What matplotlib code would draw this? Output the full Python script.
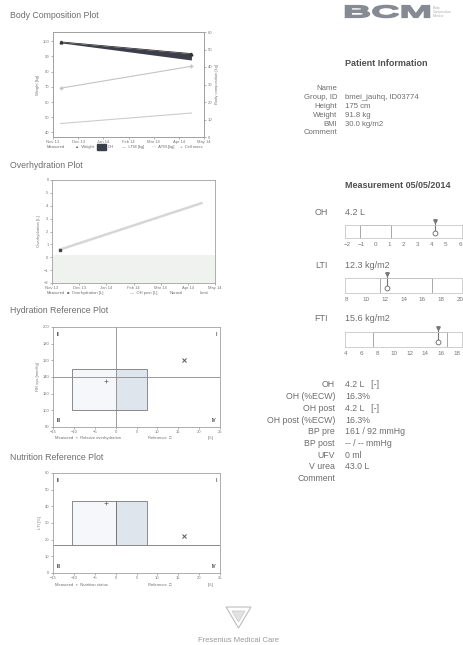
import numpy as np
import matplotlib
matplotlib.use('Agg')
import matplotlib.pyplot as plt
from matplotlib.patches import Rectangle, Polygon, PathPatch
from matplotlib.textpath import TextPath
from matplotlib.font_manager import FontProperties
from matplotlib.transforms import Affine2D, IdentityTransform

W, H = 463, 645
plt.rcParams['font.family'] = ['Liberation Sans', 'DejaVu Sans']

#==============================================
#                   DATA
#==============================================
month_labels = ['Nov 13', 'Dec 13', 'Jan 14', 'Feb 14', 'Mar 14', 'Apr 14', 'May 14']
meas_pos = [0.3, 5.5]          # position of the two measurements on the month axis
weight = [99.5, 91.8]          # kg
oh = [0.6, 4.2]                # L
ltm = [27.9, 40.4]             # kg (right axis)
atm = [7.7, 13.7]              # kg (right axis)
oh_band = [-2.0, 0.2]

rel_oh = [16.3]                # OH / ECW [%]
bp_sys = [161]                 # mmHg
hyd_box = [-10.5, 7.5, 100, 150]
hyd_center = [-2.3, 135]

nut_val = [22]
nut_box = [-10.5, 7.5, 17, 43]
nut_center = [-2.3, 42]

bar_names = ['OH', 'LTI', 'FTI']
bar_values = [4.2, 12.3, 15.6]
bar_units = ['L', 'kg/m2', 'kg/m2']
bar_ranges = [(-1.1, 1.1), (11.5, 17.0), (7.4, 16.7)]
bar_ticks = [list(range(-2, 7)), list(range(8, 21, 2)), list(range(4, 19, 2))]
bar_lims = [(-2.14, 6.14), (7.8, 20.2), (3.9, 18.6)]

patient_labels = ['Name', 'Group, ID', 'Height', 'Weight', 'BMI', 'Comment']
patient_values = ['', 'bmei_jauhq, ID03774', '175 cm', '91.8 kg', '30.0 kg/m2', '']

result_labels = ['OH', 'OH (%ECW)', 'OH post', 'OH post (%ECW)', 'BP pre',
                 'BP post', 'UFV', 'V urea', 'Comment']
result_values = ['4.2 L   [-]', '16.3%', '4.2 L   [-]', '16.3%', '161 / 92 mmHg',
                 '-- / -- mmHg', '0 ml', '43.0 L', '']

#==============================================
#                   HELPERS
#==============================================
fig = plt.figure(figsize=(W / 100, H / 100), dpi=100)
fig.patch.set_facecolor('white')

TXT = '#6e6e6e'
DARK = '#505050'
FRAME = '#a0a0a0'


def ax_at(x0, y0, x1, y1):
    return fig.add_axes([x0 / W, 1 - y1 / H, (x1 - x0) / W, (y1 - y0) / H])


def ftext(x, y, s, **kw):
    kw.setdefault('va', 'center')
    kw.setdefault('color', TXT)
    return fig.text(x / W, 1 - y / H, s, **kw)


def fxy(x, y):
    return (x / W, 1 - y / H)


def style(ax, size=3):
    for sp in ax.spines.values():
        sp.set_color(FRAME)
        sp.set_linewidth(0.6)
    ax.tick_params(labelsize=size, colors='#777777', length=1.5, width=0.4, pad=1)


#==============================================
#            BODY COMPOSITION PLOT
#==============================================
ftext(10, 16, 'Body Composition Plot', fontsize=6.3)
ax1 = ax_at(53, 32, 204, 137)
style(ax1)
w = np.array(weight)
ax1.fill_between(meas_pos, w - np.array(oh), w, color='#3c3e4a', lw=0)
ax1.plot(meas_pos, weight, color='#333333', lw=0.6, marker='^', ms=2)
ax1.set_xlim(0, 6)
ax1.set_xticks(range(7))
ax1.set_xticklabels(month_labels)
ax1.set_ylim(37, 106)
ax1.set_yticks(range(40, 101, 10))
ax1.set_ylabel('Weight [kg]', fontsize=3, color='#777777', labelpad=2)
ax1r = ax1.twinx()
style(ax1r)
ax1r.plot(meas_pos, ltm, color='#c4c4c4', lw=0.8, marker='+', ms=3)
ax1r.plot(meas_pos, atm, color='#cccccc', lw=0.8)
ax1r.set_ylim(0, 60)
ax1r.set_yticks(range(0, 61, 10))
ax1r.set_ylabel('Body composition [kg]', fontsize=3, color='#777777', labelpad=2)

ftext(47, 147, 'Measured', fontsize=3)
ftext(75, 147, '\u25b2  Weight', fontsize=3)
fig.add_artist(Rectangle(fxy(97, 150), 9 / W, 6 / H, transform=fig.transFigure,
                         color='#3c3e4a'))
ftext(108, 147, 'OH', fontsize=3)
ftext(122, 147, '\u2014  LTM [kg]', fontsize=3)
ftext(152, 147, '\u00b7\u00b7\u00b7  ATM [kg]', fontsize=3)
ftext(180, 147, '+  Cell mass', fontsize=3)

#==============================================
#            OVERHYDRATION PLOT
#==============================================
ftext(10, 165, 'Overhydration Plot', fontsize=6.3)
ax2 = ax_at(52, 180, 215, 283)
style(ax2)
ax2.axhspan(oh_band[0], oh_band[1], color='#f0f2f0', lw=0)
ax2.plot(meas_pos, oh, color='#d6d6d6', lw=1.8)
ax2.plot(meas_pos[:1], oh[:1], color='#444444', marker='s', ms=2, ls='none')
ax2.set_xlim(0, 6)
ax2.set_xticks(range(7))
ax2.set_xticklabels(month_labels)
ax2.set_ylim(-2, 6)
ax2.set_yticks(range(-2, 7))
ax2.set_ylabel('Overhydration [L]', fontsize=3, color='#777777', labelpad=2)
ftext(47, 293, 'Measured', fontsize=3)
ftext(67, 293, '\u25a0  Overhydration [L]', fontsize=3)
ftext(130, 293, '\u2014  OH post [L]', fontsize=3)
ftext(170, 293, 'Normal', fontsize=3)
ftext(200, 293, 'Limit', fontsize=3)

#==============================================
#        HYDRATION / NUTRITION REFERENCE
#==============================================


def reference_plot(ax, box, center, yval, ylim, yticks, ylabel, vline_full):
    style(ax)
    x0, x1, y0, y1 = box
    ax.add_patch(Rectangle((x0, y0), 0 - x0, y1 - y0, facecolor='#f5f7fa', edgecolor='none'))
    ax.add_patch(Rectangle((0, y0), x1, y1 - y0, facecolor='#dfe5ec', edgecolor='none'))
    ax.add_patch(Rectangle((x0, y0), x1 - x0, y1 - y0, facecolor='none',
                           edgecolor='#8a8a8a', lw=0.7))
    if vline_full:
        ax.axvline(0, color='#8a8a8a', lw=0.6)
    else:
        ax.plot([0, 0], [y0, y1], color='#777777', lw=0.7)
    ax.plot(center[0], center[1], marker='+', color='#666666', ms=2.5, mew=0.5)
    ax.plot(rel_oh, yval, marker='x', color='#555555', ms=2.5, mew=0.7, ls='none')
    ax.set_xlim(-15, 25)
    ax.set_xticks(range(-15, 26, 5))
    ax.set_ylim(*ylim)
    ax.set_yticks(yticks)
    ax.set_ylabel(ylabel, fontsize=3, color='#777777', labelpad=2)
    q = dict(fontsize=3.5, fontweight='bold', color='#555555', transform=ax.transAxes)
    ax.text(0.02, 0.95, 'II', ha='left', va='top', **q)
    ax.text(0.98, 0.95, 'I', ha='right', va='top', **q)
    ax.text(0.02, 0.04, 'III', ha='left', va='bottom', **q)
    ax.text(0.98, 0.04, 'IV', ha='right', va='bottom', **q)


ftext(10, 311, 'Hydration Reference Plot', fontsize=6.3)
ax3 = ax_at(53, 327, 220, 427)
reference_plot(ax3, hyd_box, hyd_center, bp_sys, (80, 200), range(80, 201, 20),
               'RR sys [mmHg]', True)
ax3.axhline(140, color='#8a8a8a', lw=0.6)
ftext(55, 438, 'Measured  \u00d7  Relative overhydration', fontsize=3)
ftext(148, 438, 'Reference  \u25a1', fontsize=3)
ftext(208, 438, '[%]', fontsize=3)

ftext(10, 457, 'Nutrition Reference Plot', fontsize=6.3)
ax4 = ax_at(53, 473, 220, 573)
reference_plot(ax4, nut_box, nut_center, nut_val, (0, 60), range(0, 61, 10),
               'LTI [%]', False)
ax4.axhline(nut_box[2], color='#8a8a8a', lw=0.7)
ftext(55, 585, 'Measured  \u00d7  Nutrition status', fontsize=3)
ftext(148, 585, 'Reference  \u25a1', fontsize=3)
ftext(208, 585, '[%]', fontsize=3)

#==============================================
#                 RIGHT COLUMN
#==============================================
# stretched BCM logo, drawn in pixel coordinates
tp = TextPath((0, 0), 'BCM', size=18,
              prop=FontProperties(family='Liberation Sans', weight='bold'))
bb = tp.get_extents()
tr = Affine2D().translate(-bb.x0, -bb.y0).scale(84 / bb.width, 12 / bb.height) \
    .translate(345.5, H - 17.5)
fig.add_artist(PathPatch(tr.transform_path(tp), facecolor='#868a93', edgecolor='#868a93',
                         lw=1.1, transform=IdentityTransform()))
ftext(433, 8, 'Body', fontsize=2.5, color='#b0b0b0')
ftext(433, 12, 'Composition', fontsize=2.5, color='#b0b0b0')
ftext(433, 16, 'Monitor', fontsize=2.5, color='#b0b0b0')

ftext(345, 64, 'Patient Information', fontsize=6.5, fontweight='bold', color=DARK)
for i, (lab, val) in enumerate(zip(patient_labels, patient_values)):
    y = 89 + i * 8.8
    ftext(337, y, lab, fontsize=5.6, ha='right')
    ftext(345, y, val, fontsize=5.6)

ftext(345, 186, 'Measurement 05/05/2014', fontsize=6.5, fontweight='bold', color=DARK)

bar_rows = [(212, 225, 238), (265, 278, 293), (318, 332, 347)]
for name, val, unit, rng, ticks, lim, (ty, b0, b1) in zip(
        bar_names, bar_values, bar_units, bar_ranges, bar_ticks, bar_lims, bar_rows):
    ftext(328, ty, name, fontsize=6.5, ha='right')
    ftext(345, ty, '%.1f %s' % (val, unit), fontsize=6.5)
    ab = ax_at(345, b0, 462, b1)
    for sp in ab.spines.values():
        sp.set_color('#c8c8c8')
        sp.set_linewidth(0.6)
    ab.set_xlim(*lim)
    ab.set_ylim(0, 1)
    ab.set_yticks([])
    ab.set_xticks(ticks)
    ab.tick_params(labelsize=4.5, colors='#777777', length=0, pad=3)
    ab.add_patch(Rectangle((rng[0], 0), rng[1] - rng[0], 1, facecolor='white',
                           edgecolor='#9a9a9a', lw=0.6))
    ab.plot([val, val], [0.35, 1.35], color='#777777', lw=0.8, clip_on=False)
    ab.plot([val], [1.3], marker='v', color='#777777', ms=2.5, clip_on=False)
    ab.plot([val], [0.35], marker='o', mfc='white', mec='#666666', ms=3.5, mew=0.6,
            clip_on=False)

for i, (lab, val) in enumerate(zip(result_labels, result_values)):
    y = 385 + i * 11.7
    ftext(335, y, lab, fontsize=6.3, ha='right')
    ftext(345, y, val, fontsize=6.3)

#==============================================
#                   FOOTER
#==============================================
fig.add_artist(Polygon([fxy(226, 607), fxy(251, 607), fxy(238.5, 628)], closed=True,
                       transform=fig.transFigure, facecolor='none',
                       edgecolor='#bdbdbd', lw=0.8))
fig.add_artist(Polygon([fxy(232, 611), fxy(245, 611), fxy(238.5, 622)], closed=True,
                       transform=fig.transFigure, facecolor='#e2e2e2',
                       edgecolor='#c8c8c8', lw=0.5))
ftext(238, 640, 'Fresenius Medical Care', fontsize=5.5, ha='center', color='#9a9a9a')

fig.savefig('out.png', dpi=100)
